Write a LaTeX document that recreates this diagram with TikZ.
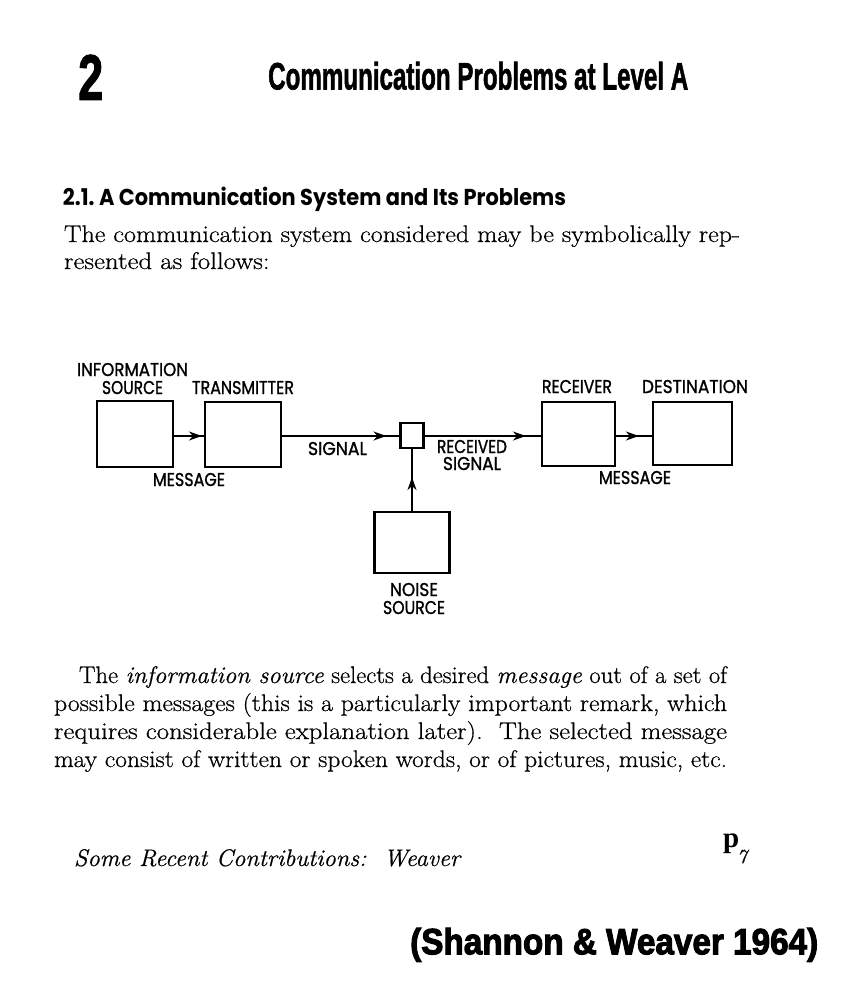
\documentclass[tikz,border=0pt]{standalone}
\usepackage{fontspec}
\usepackage{graphicx}
\usetikzlibrary{arrows.meta,decorations.markings}
\setmainfont{Latin Modern Roman}[FakeBold=0.6]
\newfontfamily\heavyfont{Liberation Sans Bold}[FakeBold=1.8]
\newfontfamily\citefont{Liberation Sans Bold}[FakeBold=3]
\newfontfamily\labfont{Poppins}[FakeBold=1.3]
\newfontfamily\secfont{Poppins}
\newfontfamily\pserif{Liberation Serif}
\newsavebox\jbox
\newcommand\jline[2]{\sbox\jbox{#2}\ifdim1.12\wd\jbox>#1\relax\resizebox{#1}{\height}{\usebox\jbox}\else\scalebox{1.12}[1]{\makebox[\dimexpr #1*25/28\relax][s]{#2}}\fi}
\newcommand\wider[1]{\scalebox{1.12}[1]{#1}}
\newcommand\fitw[2]{\resizebox{#1}{\height}{#2}}
\newcommand\lab[2]{\fitw{#1}{#2}}
\tikzset{
  txt/.style={anchor=base west, inner sep=0pt, outer sep=0pt},
  body/.style={txt, font=\fontsize{24}{28}\selectfont},
  labl/.style={txt, font=\labfont\fontsize{18.5}{18.5}\selectfont},
  blk/.style={draw, line width=2.2pt, minimum width=#1, inner sep=0pt},
  conn/.style={line width=2pt},
  arrowat/.style={conn, postaction={decorate}, decoration={markings,
      mark=at position #1 with {\arrow{Stealth[length=13pt,width=9pt]}}}}
}
\begin{document}
\begin{tikzpicture}[x=1pt,y=-1pt]
\path[use as bounding box, fill=white] (0,0) rectangle (860,988);

% header
\node[anchor=south west, inner sep=0] (chap) at (78,100) {\resizebox*{25pt}{45pt}{\heavyfont 2}};
\node[anchor=south west, inner sep=0] (title) at (268,90) {\resizebox*{420pt}{28pt}{\heavyfont Communication Problems at Level A}};
\node[txt] (sec) at (63,205) {\fitw{503pt}{\secfont\bfseries\fontsize{23}{23}\selectfont 2.1.\ A Communication System and Its Problems}};
\node[body] (p1a) at (64,242) {\jline{676pt}{The communication system considered may be symbolically rep-}};
\node[body] (p1b) at (64,269) {\wider{resented as follows:}};

% diagram labels
\node[labl] (l1) at (77,376) {\lab{111pt}{INFORMATION}};
\node[labl] (l2) at (102,394) {\lab{61pt}{SOURCE}};
\node[labl] (l3) at (192,394) {\lab{102pt}{TRANSMITTER}};
\node[labl] (l4) at (308,455) {\lab{59pt}{SIGNAL}};
\node[labl] (l5) at (153,486) {\lab{72pt}{MESSAGE}};
\node[labl] (l6) at (437,453) {\lab{70pt}{RECEIVED}};
\node[labl] (l7) at (443,470) {\lab{58pt}{SIGNAL}};
\node[labl] (l8) at (542,393) {\lab{70pt}{RECEIVER}};
\node[labl] (l9) at (642,393) {\lab{106pt}{DESTINATION}};
\node[labl] (l10) at (599,484) {\lab{72pt}{MESSAGE}};
\node[labl] (l11) at (390,596) {\lab{48pt}{NOISE}};
\node[labl] (l12) at (383,614) {\lab{62pt}{SOURCE}};

% boxes
\node[blk=76pt, minimum height=66pt] (src) at (135,434) {};
\node[blk=76pt, minimum height=65pt] (tx) at (243,434.5) {};
\node[blk=23pt, minimum height=25pt] (sq) at (412,435.5) {};
\node[blk=73pt, minimum height=64pt] (rx) at (578.5,434) {};
\node[blk=79pt, minimum height=63pt] (dst) at (692.5,433.5) {};
\node[blk=75pt, minimum height=61pt] (noise) at (412,542.5) {};

% connectors
\draw[arrowat=-2pt] (src.east |- 0,436) -- (tx.west |- 0,436);
\draw[arrowat=-13pt] (tx.east |- 0,436) -- (sq.west |- 0,436);
\draw[arrowat=-15pt] (sq.east |- 0,436) -- (rx.west |- 0,436);
\draw[arrowat=-13pt] (rx.east |- 0,436) -- (dst.west |- 0,436);
\draw[arrowat=-28pt] (noise.north) -- (sq.south);

% paragraph
\node[body] (q1) at (79,683) {\jline{648pt}{The \textit{information source} selects a desired \textit{message} out of a set of}};
\node[body] (q2) at (54,711) {\jline{673pt}{possible messages (this is a particularly important remark, which}};
\node[body] (q3) at (54,739) {\jline{673pt}{requires considerable explanation later).\ \ The selected message}};
\node[body] (q4) at (54,767) {\jline{673pt}{may consist of written or spoken words, or of pictures, music, etc.}};

% footer
\node[body] (foot) at (74,866) {\jline{386pt}{\itshape Some Recent Contributions:\ \ Weaver}};
\node[txt, font=\pserif\bfseries\fontsize{29}{29}\selectfont] (pg) at (723,847) {p};
\node[txt, font=\itshape\fontsize{20}{20}\selectfont] (pgn) at (737,863) {7};
\node[anchor=south west, inner sep=0] (cite) at (410,962) {\resizebox*{408pt}{34pt}{\citefont (Shannon \& Weaver 1964)}};
\end{tikzpicture}
\end{document}
